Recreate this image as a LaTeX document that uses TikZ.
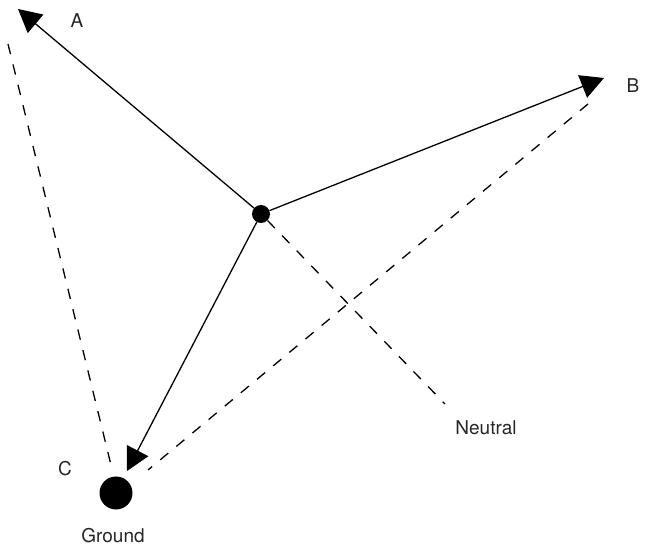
\documentclass[tikz,border=0pt]{standalone}
\usepackage{fontspec}
\setmainfont{TeX Gyre Heros}
\usetikzlibrary{arrows.meta}
\tikzset{
  vec/.style={line width=1.3pt, -{Triangle[length=23pt,width=24pt]}},
  dline/.style={line width=1.3pt, dash pattern=on 10.5pt off 10.5pt},
  lbl/.style={font=\fontsize{19}{22}\selectfont, text=black!85, inner sep=0pt},
  dotnode/.style={circle, fill=black, inner sep=0pt, minimum size=#1}
}
\begin{document}
\begin{tikzpicture}[x=1pt,y=-1pt]
\useasboundingbox (0,0) rectangle (657,548);
\node[dotnode=18pt] (O) at (261,214) {};
\node[dotnode=33pt] (G) at (116,493) {};
\coordinate (A) at (18,9);
\coordinate (B) at (604,78);
\coordinate (C) at (127,471);
\coordinate (dA) at (8,44);
\coordinate (dC) at (111,465);
\coordinate (dB) at (588,104);
\coordinate (dC2) at (148,470);
\coordinate (N) at (445,404);
\draw[vec] (O) -- (A);
\draw[vec] (O) -- (B);
\draw[vec] (O) -- (C);
\draw[dline] (dA) -- (dC);
\draw[dline] (dB) -- (dC2);
\draw[dline] (O.south east) -- (N);
\node[lbl] (lA) at (77,21) {A};
\node[lbl] (lB) at (633,86) {B};
\node[lbl] (lC) at (65,469) {C};
\node[lbl] (lN) at (486,428) {Neutral};
\node[lbl] (lG) at (113,536) {Ground};
\end{tikzpicture}
\end{document}
